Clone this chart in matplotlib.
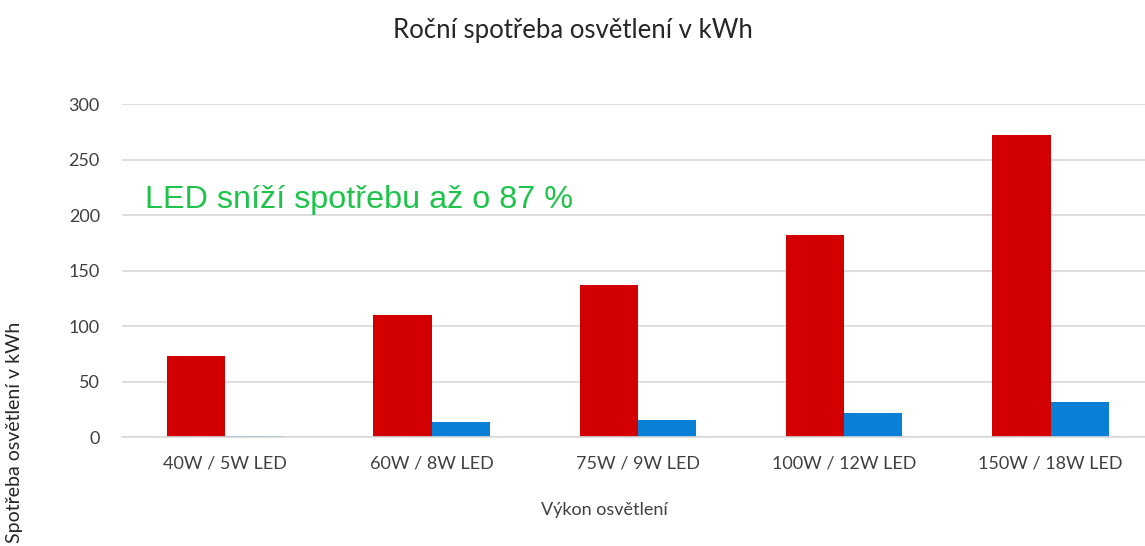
import numpy as np
import matplotlib.pyplot as plt

plt.rcParams['font.family'] = ['Lato', 'DejaVu Sans']

# values (kWh per year)
categories = ['40W / 5W LED', '60W / 8W LED', '75W / 9W LED', '100W / 12W LED', '150W / 18W LED']
classic = [73, 110, 137, 182, 272]
led = [1, 14, 16, 22, 32]

fig = plt.figure(figsize=(11.45, 5.46), dpi=100)
# plot area runs a little past the right edge, as in the original crop
ax = fig.add_axes([0.1066, 0.199, 0.901, 0.6105])

x = np.arange(len(categories))
w = 0.282
ax.bar(x - w / 2, classic, width=w, color='#d20000')
ax.bar(x + w / 2, led, width=w, color='#0a7fd6')

ax.set_xlim(-0.5, len(categories) - 0.5)
ax.set_ylim(0, 300)
ax.set_yticks(np.arange(0, 301, 50))
ax.set_xticks(x)
ax.set_xticklabels(categories)
ax.yaxis.grid(True, color='#d9d9d9', linewidth=1.2)
ax.set_axisbelow(True)
for s in ['top', 'right', 'left']:
    ax.spines[s].set_visible(False)
ax.spines['bottom'].set_color('#d9d9d9')
ax.spines['bottom'].set_linewidth(1.2)
ax.tick_params(length=0, labelsize=13, colors='#404040')
ax.tick_params(axis='x', pad=13)
ax.tick_params(axis='y', pad=16)

ax.text(0.022, 0.713, 'LED sníží spotřebu až o 87 %', transform=ax.transAxes,
        fontsize=23.3, color='#1ec44a', family='Liberation Sans', va='center')

fig.text(0.5, 0.945, 'Roční spotřeba osvětlení v kWh', ha='center', va='center',
         fontsize=18.5, color='#262626')
fig.text(0.528, 0.066, 'Výkon osvětlení', ha='center', va='center', fontsize=13, color='#404040')
fig.text(0.013, 0.005, 'Spotřeba osvětlení v kWh', rotation=90, ha='center', va='bottom',
         fontsize=14, color='#262626')

fig.savefig('out.png', dpi=100)
